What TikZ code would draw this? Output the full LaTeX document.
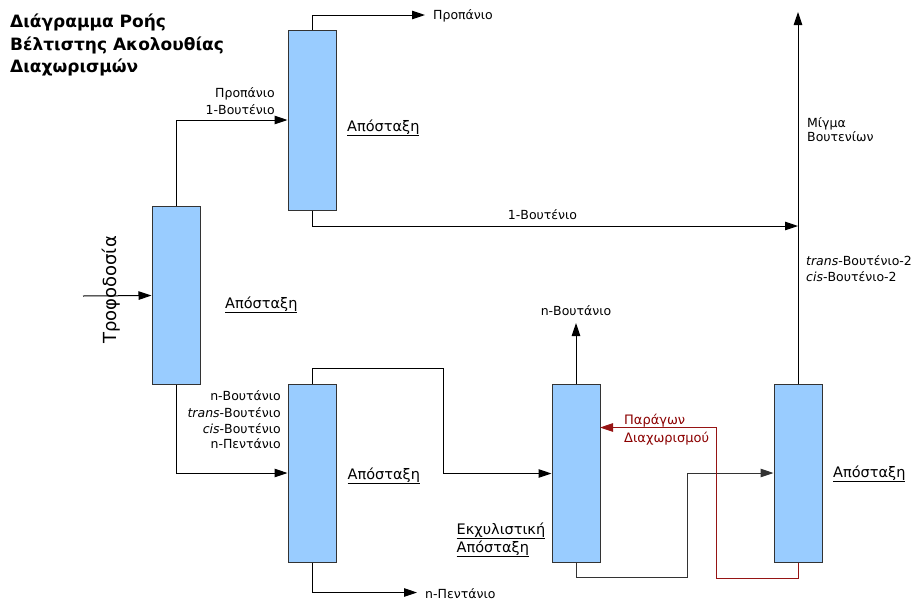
\documentclass[tikz,border=0pt]{standalone}
\usepackage{fontspec}
\setmainfont{DejaVu Sans}
\usetikzlibrary{arrows.meta}
\definecolor{colfill}{HTML}{99CCFF}
\definecolor{colborder}{HTML}{333333}
\definecolor{redline}{RGB}{150,20,20}
\definecolor{redtext}{RGB}{139,0,0}
\newcommand\myul[1]{\setbox0\hbox{#1}\rlap{\rule[-5pt]{\wd0}{0.8pt}}\box0}
\tikzset{
  column/.style={draw=colborder, line width=1pt, fill=colfill, minimum width=48pt, minimum height=178pt, inner sep=0pt},
  flow/.style={line width=1pt, -{Triangle[length=13pt,width=8.5pt]}},
  lbl/.style={inner sep=0pt, font=\fontsize{12.5}{15}\selectfont},
  biglbl/.style={inner sep=0pt, font=\fontsize{14.5}{17}\selectfont},
  redlbl/.style={inner sep=0pt, text=redtext, font=\fontsize{13}{15}\selectfont},
  titlelbl/.style={inner sep=0pt, font=\fontsize{17}{20}\selectfont\bfseries}
}
\begin{document}
\begin{tikzpicture}[x=1pt,y=-1pt]
\useasboundingbox (0,0) rectangle (918,603);
% title
\node[titlelbl, anchor=base west] (t1) at (10,27) {Διάγραμμα Ροής};
\node[titlelbl, anchor=base west] (t2) at (10,50) {Βέλτιστης Ακολουθίας};
\node[titlelbl, anchor=base west] (t3) at (10,72.5) {Διαχωρισμών};
% columns
\node[column] (A) at (176,295.5) {};
\node[column, minimum height=180pt] (B) at (312,120) {};
\node[column] (C) at (312,473) {};
\node[column] (D) at (576,473.5) {};
\node[column] (E) at (798,473) {};
% coordinates
\coordinate (feedin) at (83,296);
\coordinate (p1) at (425,15);
\coordinate (join) at (798,226);
\coordinate (mixout) at (798,12);
\coordinate (c1) at (443,368.5);
\coordinate (p2) at (417,592.5);
\coordinate (p3) at (576,323);
\coordinate (d1) at (687,577);
\coordinate (r1) at (716,578);
\coordinate (dIn) at (600,427.5);
% connectors
\draw[flow] (feedin) -- (A.west);
\draw[flow] (A.north) |- (B.west);
\draw[flow] (B.north) |- (p1);
\draw[flow] (B.south) |- (join);
\draw[flow] (E.north) -- (mixout);
\draw[flow] (A.south) |- (C.west);
\draw[flow] (C.north) |- (c1) |- (D.west);
\draw[flow] (C.south) |- (p2);
\draw[flow] (D.north) -- (p3);
\draw[flow, draw=colborder] (D.south) |- (d1) |- (E.west);
\draw[flow, draw=redline] (E.south) |- (r1) |- (dIn);
% labels
\node[lbl, rotate=90, anchor=base, font=\fontsize{18}{20}\selectfont] (feed) at (116.5,290) {Τροφοδοσία};
\node[lbl, anchor=base east] (l1) at (275,97) {Προπάνιο};
\node[lbl, anchor=base east] (l2) at (275,114) {1-Βουτένιο};
\node[lbl, anchor=base west] (l3) at (433,19) {Προπάνιο};
\node[lbl, anchor=base] (l4) at (542.5,219) {1-Βουτένιο};
\node[lbl, anchor=base west] (l5) at (807,127) {Μίγμα};
\node[lbl, anchor=base west] (l6) at (807,141) {Βουτενίων};
\node[lbl, anchor=base west] (l7) at (806,265) {\textit{trans}-Βουτένιο-2};
\node[lbl, anchor=base west] (l8) at (806,281) {\textit{cis}-Βουτένιο-2};
\node[lbl, anchor=base east] (l9) at (281,400) {n-Βουτάνιο};
\node[lbl, anchor=base east] (l10) at (281,417) {\textit{trans}-Βουτένιο};
\node[lbl, anchor=base east] (l11) at (281,433) {\textit{cis}-Βουτένιο};
\node[lbl, anchor=base east] (l12) at (281,448.5) {n-Πεντάνιο};
\node[lbl, anchor=base west] (l13) at (425,598) {n-Πεντάνιο};
\node[lbl, anchor=base] (l14) at (576,315) {n-Βουτάνιο};
\node[redlbl, anchor=base west] (r1l) at (624,424) {Παράγων};
\node[redlbl, anchor=base west] (r2l) at (624,442) {Διαχωρισμού};
\node[biglbl, anchor=base west] (aB) at (347,131) {\myul{Απόσταξη}};
\node[biglbl, anchor=base west] (aA) at (225,308) {\myul{Απόσταξη}};
\node[biglbl, anchor=base west] (aC) at (347.5,479) {\myul{Απόσταξη}};
\node[biglbl, anchor=base west] (aE) at (833,477) {\myul{Απόσταξη}};
\node[biglbl, anchor=base west] (x1) at (456.5,534) {\myul{Εκχυλιστική}};
\node[biglbl, anchor=base west] (x2) at (456.5,552) {\myul{Απόσταξη}};
\end{tikzpicture}
\end{document}
